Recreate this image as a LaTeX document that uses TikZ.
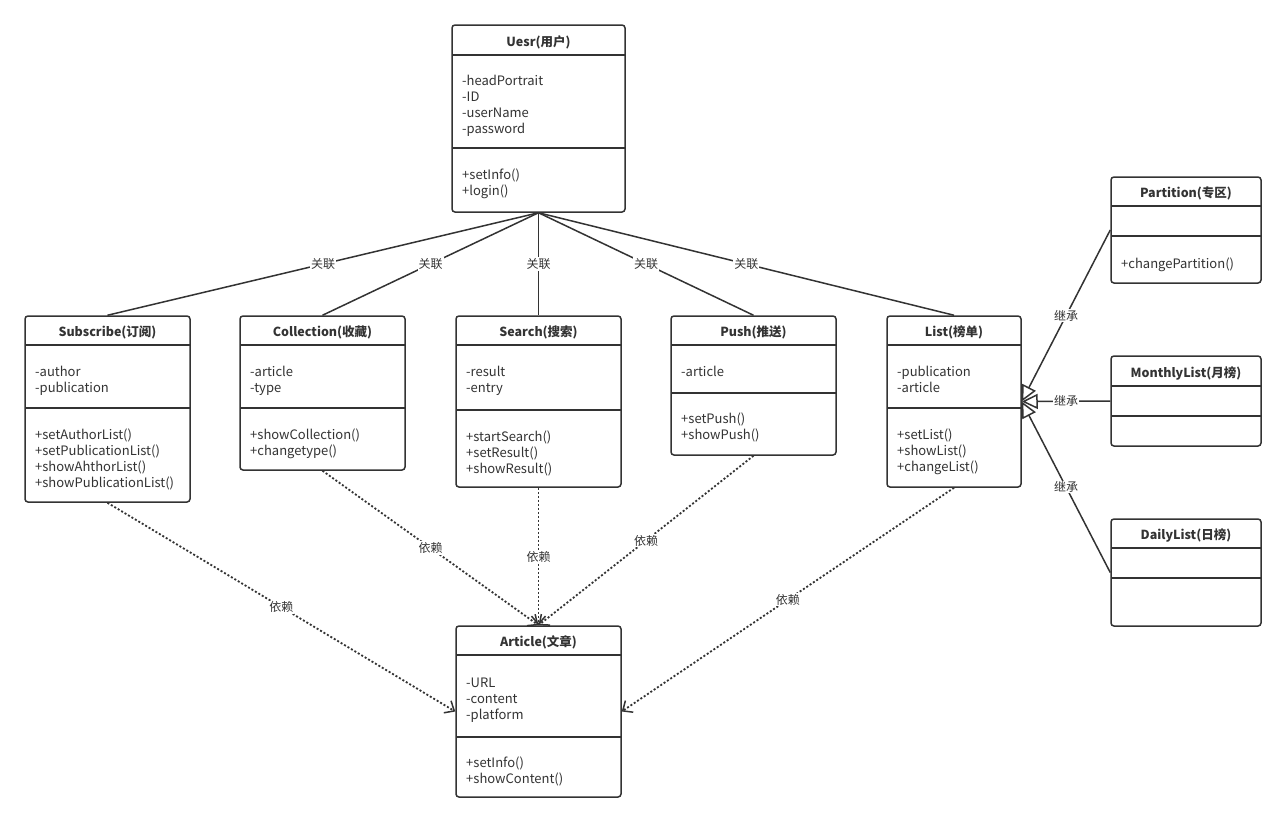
\documentclass[tikz,border=0pt]{standalone}
\usepackage{fontspec}
\setmainfont{Noto Sans CJK SC}
\usetikzlibrary{arrows.meta}
\definecolor{ink}{HTML}{333333}
\tikzset{
 cls/.style={draw=ink, line width=1.5pt, rounded corners=3pt, fill=white, inner sep=0pt},
 sepline/.style={draw=ink, line width=1.5pt},
 ttl/.style={font=\fontsize{12.5}{15}\selectfont\bfseries, text=ink, inner sep=0pt},
 itm/.style={font=\fontsize{13}{15}\selectfont, text=ink, inner sep=0pt, anchor=west, text height=9pt, text depth=3pt},
 assoc/.style={draw=ink, line width=1.5pt},
 dep/.style={draw=ink, line width=1.8pt, dash pattern=on 2pt off 2pt, -{Straight Barb[length=8pt,width=14pt,line width=1.5pt]}},
 inh/.style={draw=ink, line width=1.5pt, -{Triangle[open,length=16pt,width=15pt,fill=white]}},
 lbl/.style={fill=white, font=\fontsize{12}{14}\selectfont, text=ink, inner sep=1pt},
}
\newcommand\umlcls[8]{%
 \node[cls, minimum width={(#4-#2)*1pt}, minimum height={(#5-#3)*1pt}] (#1) at ({(#2+#4)/2},{(#3+#5)/2}) {};
 \draw[sepline] (#2,#6) -- (#4,#6);
 \draw[sepline] (#2,#7) -- (#4,#7);
 \node[ttl] (#1-t) at ({(#2+#4)/2},{(#3+#6)/2+2}) {#8};
}
\newcommand\umlitems[4]{%
 \foreach \t [count=\i] in {#4} \node[itm] (#1-\i) at (#2, {#3+2+16*(\i-1)}) {\t};
}
\begin{document}
\begin{tikzpicture}[x=1pt,y=-1pt]
\useasboundingbox[fill=white] (0,0) rectangle (1286,823);
% classes
\umlcls{user}{452}{25}{625}{212}{55}{148}{Uesr(用户)}
\umlitems{usera}{462}{80}{-headPortrait,-ID,-userName,-password}
\umlitems{userm}{462}{174}{+setInfo(),+login()}

\umlcls{sub}{25}{316}{190}{502}{345}{408}{Subscribe(订阅)}
\umlitems{suba}{35}{371}{-author,-publication}
\umlitems{subm}{35}{434}{+setAuthorList(),+setPublicationList(),+showAhthorList(),+showPublicationList()}

\umlcls{col}{240}{316}{405}{470}{345}{408}{Collection(收藏)}
\umlitems{cola}{250}{371}{-article,-type}
\umlitems{colm}{250}{434}{+showCollection(),+changetype()}

\umlcls{sea}{456}{316}{621}{487}{345}{410}{Search(搜索)}
\umlitems{seaa}{466}{371}{-result,-entry}
\umlitems{seam}{466}{436}{+startSearch(),+setResult(),+showResult()}

\umlcls{push}{671}{316}{836}{455}{345}{393}{Push(推送)}
\umlitems{pusha}{681}{371}{-article}
\umlitems{pushm}{681}{418}{+setPush(),+showPush()}

\umlcls{lst}{887}{316}{1021}{487}{345}{408}{List(榜单)}
\umlitems{lsta}{897}{371}{-publication,-article}
\umlitems{lstm}{897}{434}{+setList(),+showList(),+changeList()}

\umlcls{part}{1111}{177}{1261}{283}{206}{236}{Partition(专区)}
\umlitems{partm}{1121}{263}{+changePartition()}

\umlcls{mon}{1111}{356}{1261}{446}{386}{416}{MonthlyList(月榜)}
\umlcls{day}{1111}{519}{1261}{626}{548}{578}{DailyList(日榜)}

\umlcls{art}{456}{626}{621}{797}{655}{737}{Article(文章)}
\umlitems{arta}{466}{682}{-URL,-content,-platform}
\umlitems{artm}{466}{762}{+setInfo(),+showContent()}

% associations
\draw[assoc] (user.south) -- node[lbl] (l1) {关联} (sub.north);
\draw[assoc] (user.south) -- node[lbl] (l2) {关联} (col.north);
\draw[assoc] (user.south) -- node[lbl] (l3) {关联} (sea.north);
\draw[assoc] (user.south) -- node[lbl] (l4) {关联} (push.north);
\draw[assoc] (user.south) -- node[lbl] (l5) {关联} (lst.north);

% dependencies
\draw[dep] (sub.south) -- node[lbl] (d1) {依赖} (art.west);
\draw[dep] (col.south) -- node[lbl] (d2) {依赖} (art.north);
\draw[dep] (sea.south) -- node[lbl] (d3) {依赖} (art.north);
\draw[dep] (push.south) -- node[lbl] (d4) {依赖} (art.north);
\draw[dep] (lst.south) -- node[lbl] (d5) {依赖} (art.east);

% inheritance
\draw[inh] (part.west) -- node[lbl] (i1) {继承} (lst.east);
\draw[inh] (mon.west) -- node[lbl] (i2) {继承} (lst.east);
\draw[inh] (day.west) -- node[lbl] (i3) {继承} (lst.east);
\end{tikzpicture}
\end{document}
